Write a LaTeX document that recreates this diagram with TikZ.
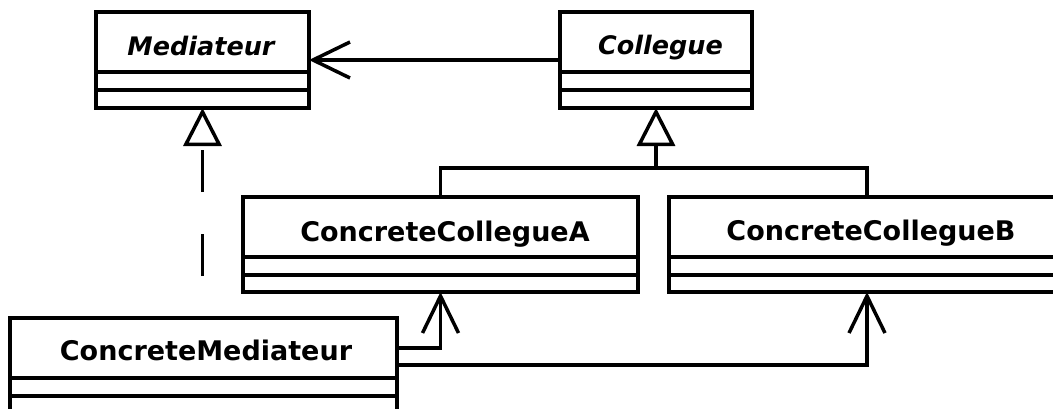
\documentclass[tikz,border=0pt]{standalone}
\usepackage{fontspec}
\newfontfamily\umlfont{DejaVu Sans}
\usetikzlibrary{arrows.meta,calc}
\begin{document}
\begin{tikzpicture}[x=1pt,y=-1pt,
  classbox/.style={draw=black, line width=3.5pt, fill=white, outer sep=0pt, inner sep=0pt, rectangle},
  classname/.style={anchor=base, inner sep=0pt, font=\umlfont\fontsize{27}{30}\selectfont\bfseries},
  abstractname/.style={anchor=base, inner sep=0pt, font=\umlfont\fontsize{25.5}{30}\selectfont\bfseries\itshape},
  link/.style={line width=3.5pt, draw=black},
  assoc/.style={link, -{Straight Barb[length=37pt,width=36pt]}},
  gen/.style={link, -{Triangle[open, length=38pt, width=38pt]}},
  real/.style={gen, dash pattern=on 42pt off 42pt, dash phase=42pt}
]
\useasboundingbox (0,0) rectangle (1053,408);
\clip (0,0) rectangle (1053,408);

% class boxes
\node[classbox, minimum width=213pt, minimum height=96pt] (med) at (202.5,60) {};
\node[classbox, minimum width=192pt, minimum height=96pt] (col) at (656,60) {};
\node[classbox, minimum width=395pt, minimum height=95pt] (cca) at (440.5,244.5) {};
\node[classbox, minimum width=396pt, minimum height=95pt] (ccb) at (867,244.5) {};
\node[classbox, minimum width=387pt, minimum height=104pt] (cm) at (203.5,370) {};

% attribute / operation compartments
\foreach \c in {med,col,cca,ccb,cm}
  \foreach \d in {60,78}
    \draw[link] ($(\c.north west)+(0,\d)$) -- ($(\c.north east)+(0,\d)$);

% class names
\node[abstractname] (medT) at (201,55) {Mediateur};
\node[abstractname] (colT) at (660.5,54) {Collegue};
\node[classname] (ccaT) at (445,241) {ConcreteCollegueA};
\node[classname] (ccbT) at (871,240) {ConcreteCollegueB};
\node[classname] (cmT) at (206,360) {ConcreteMediateur};

% relations
\draw[assoc] (col.west) -- (med.east);
\coordinate (j) at (656,168);
\draw[link] (ccb.north) |- (j);
\draw[gen] (cca.north) |- (j) -- (col.south);
\draw[real] (cm.north -| med.south) -- (med.south);
\draw[assoc] ($(cm.north east)+(0,30)$) -| (cca.south);
\draw[assoc] ($(cm.north east)+(0,47)$) -| (ccb.south);
\end{tikzpicture}
\end{document}
